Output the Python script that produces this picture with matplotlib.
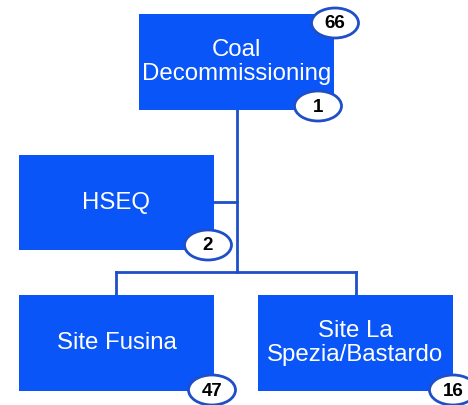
import matplotlib.pyplot as plt
from matplotlib.patches import Rectangle, Ellipse

plt.rcParams['font.family'] = ['Liberation Sans', 'DejaVu Sans']

# org chart data
units = ['Coal\nDecommissioning', 'HSEQ', 'Site Fusina', 'Site La\nSpezia/Bastardo']
staff = [1, 2, 47, 16]
total = 66

box_color = '#0a55f7'
line_color = '#1f4fc8'

fig = plt.figure(figsize=(4.68, 4.05), dpi=100)
ax = fig.add_axes([0, 0, 1, 1])
ax.set_xlim(0, 468)
ax.set_ylim(405, 0)
ax.axis('off')

# box layout (left, top, width, height) in pixels
boxes = [(139, 14, 195, 96), (19, 155, 195, 95), (19, 295, 195, 96), (258, 295, 195, 96)]
badges = [(318, 106), (208, 245), (212, 390), (453, 390)]

# connectors
lw = 2
ax.plot([237, 237], [110, 272], color=line_color, lw=lw, zorder=1)
ax.plot([214, 237], [202, 202], color=line_color, lw=lw, zorder=1)
ax.plot([116, 356], [272, 272], color=line_color, lw=lw, zorder=1)
ax.plot([116, 116], [272, 295], color=line_color, lw=lw, zorder=1)
ax.plot([356, 356], [272, 295], color=line_color, lw=lw, zorder=1)

for (x, y, w, h), name in zip(boxes, units):
    ax.add_patch(Rectangle((x, y), w, h, facecolor=box_color, edgecolor='none', zorder=2))
    ax.text(x + w / 2, y + h / 2, name, color='white', fontsize=17.3,
            ha='center', va='center', linespacing=1.12, zorder=3)

def badge(cx, cy, value):
    ax.add_patch(Ellipse((cx, cy), 47, 30, facecolor='white', edgecolor=line_color,
                         lw=2, zorder=4))
    ax.text(cx, cy + 1, str(value), fontsize=13.5, fontweight='bold',
            ha='center', va='center', zorder=5)

badge(335, 23, total)
for (cx, cy), v in zip(badges, staff):
    badge(cx, cy, v)

fig.savefig('out.png', dpi=100)
